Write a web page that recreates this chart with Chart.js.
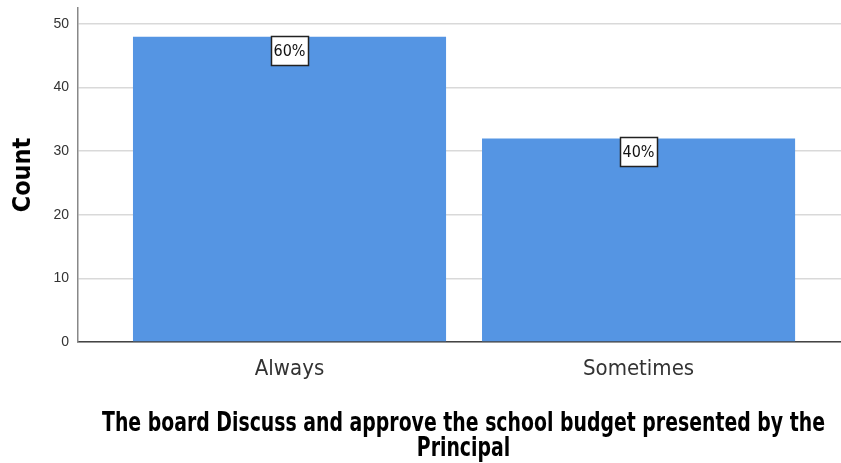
<!DOCTYPE html>
<html>
<head>
<meta charset="utf-8">
<script src="https://cdn.jsdelivr.net/npm/chart.js@4.4.1/dist/chart.umd.min.js"></script>
<style>
  body { margin: 0; background: #fff; }
  canvas { display: block; }
</style>
</head>
<body>
<canvas id="budgetChart" width="841" height="463"></canvas>
<script>
// chart data
const categories = ['Always', 'Sometimes'];
const counts = [48, 32];
const yTicks = [0, 10, 20, 30, 40, 50];
const xTitle = ['The board Discuss and approve the school budget presented by the', 'Principal'];
const yTitle = 'Count';

const narrow = "'Liberation Sans Narrow', 'DejaVu Sans Condensed', 'Arial Narrow', sans-serif";
const total = counts.reduce((a, b) => a + b, 0);

// white boxed percentage label at the top of each bar
const pctLabels = {
    id: 'pctLabels',
    afterDatasetsDraw(chart) {
        const ctx = chart.ctx;
        const meta = chart.getDatasetMeta(0);
        ctx.save();
        ctx.font = '16px ' + narrow;
        ctx.textAlign = 'center';
        ctx.textBaseline = 'middle';
        meta.data.forEach((bar, i) => {
            const txt = Math.round(counts[i] / total * 100) + '%';
            const w = 37, h = 29;
            const x = Math.round(bar.x - w / 2) + 0.5;
            const y = Math.round(bar.y - 1) + 0.5;
            ctx.fillStyle = '#fff';
            ctx.fillRect(x, y, w, h);
            ctx.strokeStyle = '#222';
            ctx.lineWidth = 1.5;
            ctx.strokeRect(x, y, w, h);
            ctx.fillStyle = '#111';
            ctx.fillText(txt, bar.x, y + h / 2 + 1);
        });
        ctx.restore();
    }
};

// x axis title, tall narrow bold text like the SPSS output
const xTitlePlugin = {
    id: 'xTitlePlugin',
    afterDraw(chart) {
        const ctx = chart.ctx;
        const sc = chart.scales.x;
        const cx = (sc.left + sc.right) / 2 + 4;
        ctx.save();
        ctx.font = 'bold 26px ' + narrow;
        ctx.fillStyle = '#000';
        ctx.textAlign = 'center';
        ctx.textBaseline = 'alphabetic';
        const sx = 723 / ctx.measureText(xTitle[0]).width;
        ctx.translate(cx, 0);
        ctx.scale(sx, 1);
        xTitle.forEach((line, i) => {
            ctx.fillText(line, 0, 431 + i * 25);
        });
        ctx.restore();
    }
};

const ctx = document.getElementById('budgetChart').getContext('2d');
const myChart = new Chart(ctx, {
    type: 'bar',
    data: {
        datasets: [{
            data: categories.map((c, i) => ({ x: i + 1, y: counts[i] })),
            backgroundColor: '#5595e3',
            borderWidth: 0,
            categoryPercentage: 1,
            barPercentage: 0.897
        }]
    },
    options: {
        responsive: false,
        animation: false,
        layout: { padding: { top: 8, right: 0, bottom: 0, left: 0 } },
        plugins: {
            legend: { display: false },
            tooltip: { enabled: false }
        },
        scales: {
            x: {
                type: 'linear',
                offset: false,
                min: 0.394,
                max: 2.58,
                afterBuildTicks: scale => {
                    scale.ticks = categories.map((c, i) => ({ value: i + 1 }));
                },
                afterFit: scale => {
                    scale.height = 121;
                    scale.paddingLeft = 0;
                    scale.paddingRight = 0;
                },
                grid: { display: false, offset: false },
                border: { display: true, color: '#444', width: 1.5 },
                ticks: {
                    padding: 6,
                    autoSkip: false,
                    maxRotation: 0,
                    color: '#333',
                    font: { family: narrow, size: 22 },
                    callback: v => categories[v - 1] || ''
                }
            },
            y: {
                min: 0,
                max: 52.5,
                afterBuildTicks: scale => {
                    scale.ticks = yTicks.map(v => ({ value: v }));
                },
                afterFit: scale => {
                    scale.width = 78;
                    scale.paddingTop = 0;
                    scale.paddingBottom = 0;
                },
                grid: { color: '#d9d9d9', lineWidth: 1.5, drawTicks: false },
                border: { display: true, color: '#888', width: 1.5 },
                ticks: {
                    padding: 9,
                    color: '#333',
                    font: { family: "'Liberation Sans', Arial, sans-serif", size: 14 }
                },
                title: {
                    display: true,
                    text: yTitle,
                    color: '#000',
                    padding: { top: 8, bottom: 0 },
                    font: { family: narrow, size: 25, weight: 'bold' }
                }
            }
        }
    },
    plugins: [pctLabels, xTitlePlugin]
});
</script>
</body>
</html>
